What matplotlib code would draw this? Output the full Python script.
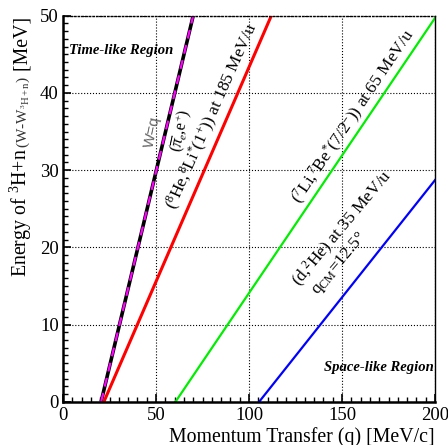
import matplotlib
matplotlib.use("Agg")
import matplotlib.pyplot as plt
from matplotlib.ticker import MultipleLocator

plt.rcParams['font.family'] = ['Liberation Serif', 'DejaVu Serif']
plt.rcParams['mathtext.fontset'] = 'custom'
plt.rcParams['mathtext.rm'] = 'Liberation Serif'
plt.rcParams['mathtext.it'] = 'Liberation Serif:italic'
plt.rcParams['mathtext.bf'] = 'Liberation Serif:bold'

# Donnees
q_wq = [20.5, 70.0]
e_wq = [0.0, 50.0]
q_he8 = [22.0, 112.0]
e_he8 = [0.0, 50.0]
q_li7 = [60.5, 200.0]
e_li7 = [0.0, 49.7]
q_d2he = [105.5, 200.0]
e_d2he = [0.0, 28.7]

x_ticks = [0, 50, 100, 150, 200]
y_ticks = [0, 10, 20, 30, 40, 50]

fig = plt.figure(figsize=(4.48, 4.45), dpi=100)
ax = fig.add_axes([63 / 448, 1 - 401.7 / 445, (435 - 63) / 448, (401.7 - 15.7) / 445])

ax.set_xlim(0, 200)
ax.set_ylim(0, 50)
ax.set_xticks(x_ticks)
ax.set_yticks(y_ticks)
ax.xaxis.set_minor_locator(MultipleLocator(5))
ax.yaxis.set_minor_locator(MultipleLocator(1))
ax.tick_params(which='both', direction='in', top=False, right=False, labelsize=13.5)
ax.tick_params(which='major', length=6, width=1.2)
ax.tick_params(which='minor', length=3.5, width=1.0)
ax.tick_params(axis='x', pad=4)
ax.tick_params(axis='y', pad=3)
ax.grid(True, which='major', linestyle=':', color='black', linewidth=0.8)

ax.spines['left'].set_linewidth(1.8)
ax.spines['bottom'].set_linewidth(1.8)
ax.spines['top'].set_linestyle(':')
ax.spines['top'].set_linewidth(1.0)
ax.spines['right'].set_linewidth(1.0)

# Lignes
ax.plot(q_wq, e_wq, color='black', linewidth=2.6, solid_capstyle='butt')
ax.plot(q_wq, e_wq, color='#ff00ff', linewidth=1.6, linestyle=(0, (4, 3)))
ax.plot(q_he8, e_he8, color='#ff0000', linewidth=2.2)
ax.plot(q_li7, e_li7, color='#00ee00', linewidth=1.6)
ax.plot(q_d2he, e_d2he, color='#0000ff', linewidth=1.6)

# Textes
kw = dict(ha='center', va='center', rotation_mode='anchor')
ax.text(47.9, 34.9, "W=q", rotation=78, color='#666666', fontsize=11,
        family=['Liberation Sans'], **kw)
ax.text(63.4, 35.1, r"($\overline{\pi}_{e}$,e$^{+}$)", rotation=78, fontsize=11.5, **kw)
ax.text(80.2, 36.9, r"($^{8}$He,$^{8}$Li$^{*}$($\mathit{1}^{+}$)) at 185 MeV/u",
        rotation=66, fontsize=12.5, **kw)
ax.text(156.3, 36.9, r"($^{7}$Li,$^{7}$Be$^{*}$(7/2$^{-}$)) at 65 MeV/u",
        rotation=56, fontsize=12.5, **kw)
ax.text(150.4, 22.4, r"(d,$^{2}$He) at 35 MeV/u", rotation=50, fontsize=12.5, **kw)
ax.text(148.8, 17.9, r"q$_{\mathrm{CM}}$=12.5°", rotation=50, fontsize=12.5, **kw)

ax.text(3.2, 45.5, "Time-like Region", fontsize=10.5, fontweight='bold',
        fontstyle='italic', ha='left', va='center')
ax.text(199.2, 4.45, "Space-like Region", fontsize=10.5, fontweight='bold',
        fontstyle='italic', ha='right', va='center')

# Titre axe x (coupe en bas comme l'original)
fig.text(435 / 448, 1 - 442 / 445, "Momentum Transfer (q) [MeV/c]", fontsize=14.3,
         ha='right', va='baseline')

# Titre axe y en trois morceaux (taille mixte)
fig.canvas.draw()
renderer = fig.canvas.get_renderer()
x_lab = 27 / 448
y_pos = 1 - 277 / 445
pieces = [("Energy of $^{3}$H+n ", 14.3, 'black'),
          (r"(W-W$_{^{3}\mathrm{H+n}}$)", 11, '#333333'),
          (" [MeV]", 14.3, 'black')]
for txt, size, col in pieces:
    t = fig.text(x_lab, y_pos, txt, fontsize=size, color=col, rotation=90,
                 rotation_mode='anchor', ha='left', va='baseline')
    bb = t.get_window_extent(renderer=renderer)
    y_pos = bb.y1 / fig.bbox.height

fig.savefig("out.png", dpi=100)
